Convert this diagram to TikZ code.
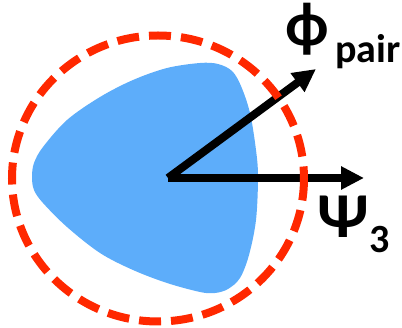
\documentclass[tikz,border=0pt]{standalone}
\usepackage{fontspec}
\newfontfamily\lbl{Carlito}
\usetikzlibrary{arrows.meta}
\definecolor{blobblue}{RGB}{93,173,250}
\definecolor{ringred}{RGB}{255,40,0}
\tikzset{
  vec/.style={line width=8pt,-{Triangle[length=23pt,width=22pt]}},
  ring/.style={draw=ringred,line width=8pt,dash pattern=on 22pt off 10pt},
  lab/.style={inner sep=0pt,font=\lbl\bfseries}
}
\begin{document}
\begin{tikzpicture}[x=1pt,y=-1pt]
\useasboundingbox (0,0) rectangle (402,328);
% blue blob
\fill[blobblue] plot[smooth cycle,tension=0.55] coordinates {
  (32,177) (34,163) (43,147) (67,120) (100,97) (133,80) (167,68) (200,63)
  (218,64) (232,71) (241,86) (250,113) (256,150) (258,177) (256,220)
  (249,255) (240,278) (228,289) (215,293) (200,292) (167,283) (133,270)
  (100,253) (67,227) (43,203) (34,190)};
\coordinate (o) at (168,178);
\coordinate (p) at (316,69);
\coordinate (q) at (364,178);
\draw[vec] (o) -- (p);
\draw[vec] (o) -- (q);
\draw[ring] (158,178.5) ellipse[x radius=146,y radius=143];
\node[lab,font=\lbl\bfseries\fontsize{62}{62}\selectfont,anchor=base] (phi) at (307,46) {ϕ};
\node[lab,font=\lbl\bfseries\fontsize{40}{40}\selectfont,anchor=base west] (pair) at (335,63) {pair};
\node[lab,font=\lbl\bfseries\fontsize{64}{64}\selectfont,anchor=base] (psi) at (343,238) {Ψ};
\node[lab,font=\lbl\bfseries\fontsize{40}{40}\selectfont,anchor=base west] (three) at (369,253) {3};
\end{tikzpicture}
\end{document}
